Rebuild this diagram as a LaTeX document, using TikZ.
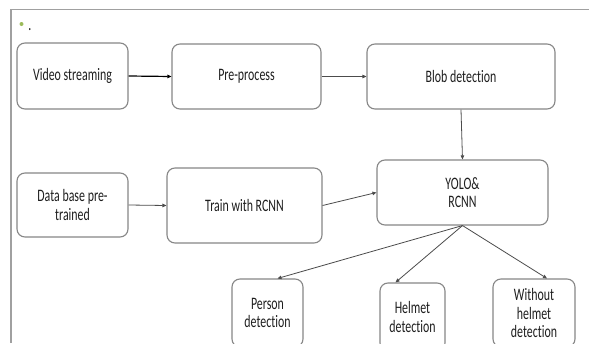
\documentclass[tikz,border=0pt]{standalone}
\usepackage{fontspec}
\setmainfont{Carlito}[FakeStretch=0.68, Ligatures={NoCommon,NoContextual,NoRare}, Contextuals=NoAlternate]
\usetikzlibrary{arrows.meta}
\definecolor{boxgray}{RGB}{135,135,135}
\definecolor{framegray}{RGB}{160,160,160}
\definecolor{bulletgreen}{RGB}{155,187,89}
\definecolor{txt}{RGB}{30,30,30}
\begin{document}
\begin{tikzpicture}[x=1pt,y=-1pt,
  box/.style={draw=boxgray, line width=1.1pt, rounded corners=8pt, align=center,
    inner sep=0pt, font=\fontsize{17.5}{18.2}\selectfont, text=txt},
  arr/.style={-{Triangle[length=4pt,width=3.5pt]}, line width=0.8pt, draw=black!70},
  arrb/.style={-{Triangle[length=4pt,width=3.5pt]}, line width=1.2pt, draw=black},
]
\useasboundingbox (0,0) rectangle (589,343);
\clip (0,0) rectangle (589,343);
\fill[white] (0,0) rectangle (589,343);
% frame
\draw[framegray, line width=1.4pt] (11,343) -- (11,9.5) -- (589,9.5);
% bullet
\node[circle, fill=bulletgreen, inner sep=0pt, minimum size=4pt] (bul) at (21.5,24) {};
\node[font=\fontsize{17.5}{18}\selectfont, text=txt, inner sep=0pt, anchor=base] (dot) at (30,30) {.};
% boxes
\node[box, minimum width=111pt, minimum height=66pt] (vs) at (72.5,76) {Video streaming};
\node[box, minimum width=149pt, minimum height=65pt] (pre) at (246.5,76.5) {Pre-process};
\node[box, minimum width=188pt, minimum height=65pt] (blob) at (461,76.5) {Blob detection};
\node[box, minimum width=171pt, minimum height=65pt] (yolo) at (462.5,192.5) {YOLO\&\\RCNN};
\node[box, minimum width=111pt, minimum height=64pt] (db) at (72.5,205) {Data base pre-\\trained};
\node[box, minimum width=155pt, minimum height=75pt] (train) at (244.5,205.5) {Train with RCNN};
\node[box, minimum width=71pt, minimum height=68pt] (pd) at (267.5,313) {Person\\detection};
\node[box, minimum width=65pt, minimum height=68pt] (hd) at (412.5,317) {Helmet\\detection};
\node[box, minimum width=82pt, minimum height=68pt] (wd) at (534,313) {Without\\helmet\\detection};
% connectors
\draw[arrb] (vs.east) -- (pre.west);
\draw[arr] (pre.east) -- (blob.west);
\draw[arr] (blob.south) -- (yolo.north);
\draw[arr] (db.east) -- (train.west);
\draw[arr] (train.east) -- (yolo.west);
\draw[arr] (yolo.south) -- ([xshift=10pt]pd.north);
\draw[arr] (yolo.south) -- ([xshift=-17pt]hd.north);
\draw[arr] (yolo.south) -- ([xshift=13pt]wd.north);
\end{tikzpicture}
\end{document}
